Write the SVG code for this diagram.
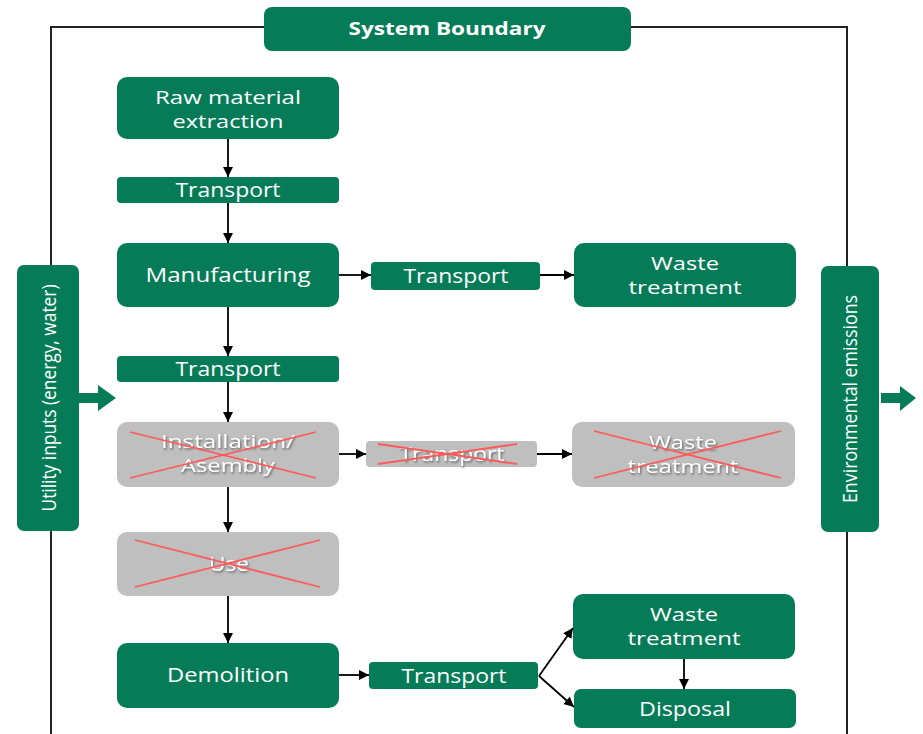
<svg xmlns="http://www.w3.org/2000/svg" width="923" height="734" viewBox="0 0 923 734">
<defs>
<style>
.g{fill:#057c57}
.x{fill:#bfbfbf}
.t{font-family:"Open Sans","Noto Sans",sans-serif;font-size:20px;fill:#ffffff;text-anchor:middle}
.ts{font-family:"Open Sans","Noto Sans",sans-serif;font-size:20px;fill:#ffffff;text-anchor:middle;filter:url(#sh)}
.m{font-size:18.5px}
.b{font-weight:bold;font-size:18px}
.c{stroke:#000;stroke-width:1.8;fill:none;marker-end:url(#ah)}
.r{stroke:#ff5a5a;stroke-width:1.8}
</style>
<marker id="ah" viewBox="0 0 10 10" refX="10" refY="5" markerWidth="10" markerHeight="11" markerUnits="userSpaceOnUse" orient="auto">
<path d="M0,0 L10,5 L0,10 z" fill="#000"/>
</marker>
<filter id="sh" x="-20%" y="-30%" width="140%" height="160%">
<feDropShadow dx="1" dy="1.5" stdDeviation="0.8" flood-color="#555" flood-opacity="0.9"/>
</filter>
</defs>

<g id="boundary">
<path d="M51,734 L51,27 L847,27 L847,734" fill="none" stroke="#222" stroke-width="2"/>
</g>

<g id="system-boundary">
<rect class="g" x="264" y="7" width="367" height="44" rx="8"/>
<text class="t b" x="447" y="35" textLength="197" lengthAdjust="spacingAndGlyphs">System Boundary</text>
</g>

<g id="utility">
<rect class="g" x="17" y="265" width="62" height="266" rx="7"/>
<text class="t" transform="translate(56,398) rotate(-90)" x="0" y="0" textLength="227" lengthAdjust="spacingAndGlyphs" font-size="22">Utility inputs (energy, water)</text>
<path class="g" d="M79,393 L98,393 L98,385 L116,398 L98,411 L98,403 L79,403 z"/>
</g>

<g id="emissions">
<rect class="g" x="821" y="266" width="58" height="266" rx="7"/>
<text class="t" transform="translate(857,399) rotate(-90)" x="0" y="0" textLength="208" lengthAdjust="spacingAndGlyphs" font-size="22">Environmental emissions</text>
<path class="g" d="M881,393 L900,393 L900,386 L916,398 L900,411 L900,403 L881,403 z"/>
</g>

<g id="raw">
<rect class="g" x="117" y="77" width="222" height="62" rx="10"/>
<text class="t m" x="228" y="104" textLength="146" lengthAdjust="spacingAndGlyphs">Raw material</text>
<text class="t m" x="228" y="128" textLength="111" lengthAdjust="spacingAndGlyphs">extraction</text>
</g>

<g id="transport1">
<rect class="g" x="117" y="177" width="222" height="26" rx="4"/>
<text class="t" x="228" y="197" textLength="105" lengthAdjust="spacingAndGlyphs">Transport</text>
</g>

<g id="manufacturing">
<rect class="g" x="117" y="243" width="222" height="64" rx="10"/>
<text class="t" x="228" y="282" textLength="165" lengthAdjust="spacingAndGlyphs">Manufacturing</text>
</g>

<g id="transport-m">
<rect class="g" x="371" y="262" width="169" height="28" rx="4"/>
<text class="t" x="456" y="283" textLength="105" lengthAdjust="spacingAndGlyphs">Transport</text>
</g>

<g id="waste1">
<rect class="g" x="574" y="243" width="222" height="64" rx="10"/>
<text class="t m" x="685" y="270" textLength="68" lengthAdjust="spacingAndGlyphs">Waste</text>
<text class="t m" x="685" y="294" textLength="113" lengthAdjust="spacingAndGlyphs">treatment</text>
</g>

<g id="transport2">
<rect class="g" x="117" y="356" width="222" height="26" rx="4"/>
<text class="t" x="228" y="376" textLength="105" lengthAdjust="spacingAndGlyphs">Transport</text>
</g>

<g id="installation">
<rect class="x" x="117" y="422" width="222" height="65" rx="10"/>
<text class="ts m" x="228" y="448" textLength="134" lengthAdjust="spacingAndGlyphs">Installation/</text>
<text class="ts m" x="228" y="472" textLength="94" lengthAdjust="spacingAndGlyphs">Asembly</text>
<line class="r" x1="130" y1="432" x2="316" y2="478"/>
<line class="r" x1="130" y1="478" x2="316" y2="432"/>
</g>

<g id="transport-i">
<rect class="x" x="366" y="441" width="171" height="26" rx="4"/>
<text class="ts" x="452" y="461" textLength="105" lengthAdjust="spacingAndGlyphs">Transport</text>
<line class="r" x1="378" y1="444" x2="517" y2="464"/>
<line class="r" x1="378" y1="464" x2="517" y2="444"/>
</g>

<g id="waste-i">
<rect class="x" x="572" y="422" width="223" height="65" rx="10"/>
<text class="ts m" x="683" y="449" textLength="68" lengthAdjust="spacingAndGlyphs">Waste</text>
<text class="ts m" x="683" y="473" textLength="111" lengthAdjust="spacingAndGlyphs">treatment</text>
<line class="r" x1="594" y1="431" x2="781" y2="478"/>
<line class="r" x1="594" y1="478" x2="781" y2="431"/>
</g>

<g id="use">
<rect class="x" x="117" y="532" width="222" height="64" rx="10"/>
<text class="ts" x="229" y="571" textLength="40" lengthAdjust="spacingAndGlyphs">Use</text>
<line class="r" x1="135" y1="540" x2="320" y2="587"/>
<line class="r" x1="135" y1="587" x2="320" y2="540"/>
</g>

<g id="demolition">
<rect class="g" x="117" y="643" width="222" height="65" rx="10"/>
<text class="t" x="228" y="682" textLength="122" lengthAdjust="spacingAndGlyphs">Demolition</text>
</g>

<g id="transport-d">
<rect class="g" x="369" y="662" width="169" height="27" rx="4"/>
<text class="t" x="454" y="683" textLength="105" lengthAdjust="spacingAndGlyphs">Transport</text>
</g>

<g id="waste-d">
<rect class="g" x="573" y="594" width="222" height="65" rx="10"/>
<text class="t m" x="684" y="621" textLength="68" lengthAdjust="spacingAndGlyphs">Waste</text>
<text class="t m" x="684" y="645" textLength="113" lengthAdjust="spacingAndGlyphs">treatment</text>
</g>

<g id="disposal">
<rect class="g" x="574" y="689" width="222" height="39" rx="7"/>
<text class="t" x="685" y="716" textLength="92" lengthAdjust="spacingAndGlyphs">Disposal</text>
</g>

<g id="connectors">
<line class="c" x1="228" y1="139" x2="228" y2="177"/>
<line class="c" x1="228" y1="203" x2="228" y2="243"/>
<line class="c" x1="339" y1="275" x2="371" y2="275"/>
<line class="c" x1="540" y1="275" x2="574" y2="275"/>
<line class="c" x1="228" y1="307" x2="228" y2="356"/>
<line class="c" x1="228" y1="382" x2="228" y2="422"/>
<line class="c" x1="339" y1="454" x2="366" y2="454"/>
<line class="c" x1="537" y1="454" x2="572" y2="454"/>
<line class="c" x1="228" y1="487" x2="228" y2="532"/>
<line class="c" x1="228" y1="596" x2="228" y2="643"/>
<line class="c" x1="339" y1="675" x2="369" y2="675"/>
<line class="c" x1="539" y1="676" x2="573" y2="628"/>
<line class="c" x1="539" y1="676" x2="574" y2="707"/>
<line class="c" x1="684" y1="659" x2="684" y2="689"/>
</g>
</svg>
